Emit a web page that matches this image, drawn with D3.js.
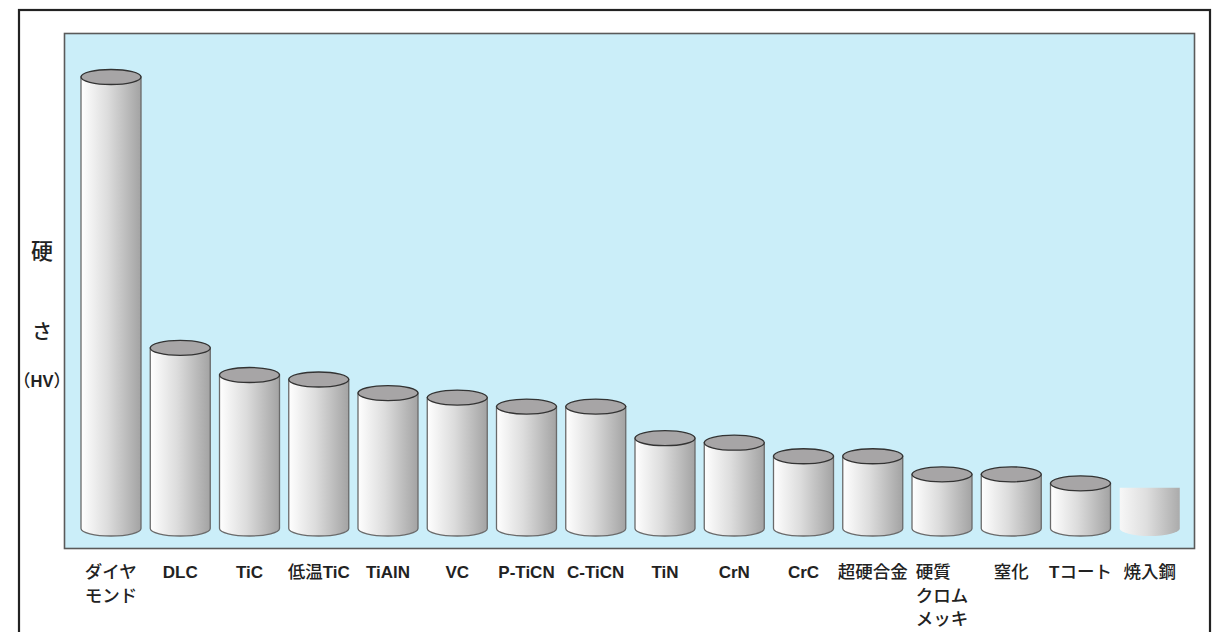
<!DOCTYPE html>
<html>
<head>
<meta charset="utf-8">
<script src="https://cdn.jsdelivr.net/npm/d3@7/dist/d3.min.js"></script>
<style>
  html, body { margin: 0; padding: 0; background: #ffffff; }
  svg { display: block; }
</style>
</head>
<body>
<svg id="chart" width="1220" height="632"></svg>
<script>
// ---- data ----
const categories = ["ダイヤモンド", "DLC", "TiC", "低温TiC", "TiAlN", "VC", "P-TiCN", "C-TiCN",
  "TiN", "CrN", "CrC", "超硬合金", "硬質クロムメッキ", "窒化", "Tコート", "焼入鋼"];
const hardnessHV = [10000, 4000, 3400, 3300, 3000, 2900, 2700, 2700,
  2000, 1900, 1600, 1600, 1200, 1200, 1000, 900];
const labelLines = [["ダイヤ", "モンド"], ["DLC"], ["TiC"], ["低温TiC"], ["TiAlN"], ["VC"], ["P-TiCN"], ["C-TiCN"],
  ["TiN"], ["CrN"], ["CrC"], ["超硬合金"], ["硬質", "クロム", "メッキ"], ["窒化"], ["Tコート"], ["焼入鋼"]];
const flatTopCategories = ["焼入鋼"];
const yTitleLines = ["硬", "さ", "（HV）"];

// ---- layout ----
const svg = d3.select("#chart");
const plot = { left: 64.5, top: 33.5, right: 1194.5, bottom: 548.5 };
const rx = 30, ry = 7.5;

const x = d3.scalePoint().domain(categories).range([111, 1149.75]);
const y = d3.scaleLinear().domain([0, 10000]).range([528.5, 77]);

const defs = svg.append("defs");
const g1 = defs.append("linearGradient").attr("id", "side").attr("x1", "0").attr("x2", "1").attr("y1", "0").attr("y2", "0");
g1.append("stop").attr("offset", "0").attr("stop-color", "#ffffff");
g1.append("stop").attr("offset", "0.45").attr("stop-color", "#dcdcdc");
g1.append("stop").attr("offset", "1").attr("stop-color", "#a3a3a3");
const g2 = defs.append("linearGradient").attr("id", "sideLight").attr("x1", "0").attr("x2", "1").attr("y1", "0").attr("y2", "0");
g2.append("stop").attr("offset", "0").attr("stop-color", "#f7f7f7");
g2.append("stop").attr("offset", "0.45").attr("stop-color", "#dedede");
g2.append("stop").attr("offset", "1").attr("stop-color", "#ababab");

// outer frame
svg.append("rect")
  .attr("x", 19).attr("y", 10).attr("width", 1191).attr("height", 640)
  .attr("fill", "none").attr("stroke", "#222").attr("stroke-width", 2.2);

// plot area
svg.append("rect")
  .attr("x", plot.left).attr("y", plot.top)
  .attr("width", plot.right - plot.left).attr("height", plot.bottom - plot.top)
  .attr("fill", "#cbeef9").attr("stroke", "#5a5a5a").attr("stroke-width", 1.6);

// cylinders
const data = categories.map((c, i) => ({ c, v: hardnessHV[i], lines: labelLines[i], flat: flatTopCategories.includes(c) }));
const base = y(0);

const cyl = svg.append("g").selectAll("g").data(data).join("g");

cyl.append("path")
  .attr("d", d => {
    const cx = x(d.c), top = y(d.v);
    return `M${cx - rx},${top} L${cx - rx},${base} A${rx},${ry} 0 0 0 ${cx + rx},${base} L${cx + rx},${top} Z`;
  })
  .attr("fill", d => d.flat ? "url(#sideLight)" : "url(#side)")
  .attr("stroke", d => d.flat ? "none" : "#6a6a6a")
  .attr("stroke-width", 1.3);

cyl.filter(d => !d.flat).append("ellipse")
  .attr("cx", d => x(d.c)).attr("cy", d => y(d.v))
  .attr("rx", rx).attr("ry", ry)
  .attr("fill", "#a7a5a6").attr("stroke", "#333").attr("stroke-width", 1.3);

// category labels
const isLatin = ch => /[\x00-\x7F]/.test(ch);
function runs(str) {
  const out = [];
  for (const ch of str) {
    const lat = isLatin(ch);
    if (out.length && out[out.length - 1].lat === lat) out[out.length - 1].t += ch;
    else out.push({ t: ch, lat });
  }
  return out;
}
function styledText(sel, str, latSize, cjkSize) {
  runs(str).forEach(r => {
    sel.append("tspan").text(r.t)
      .attr("font-family", r.lat ? "'Liberation Sans', Arial, sans-serif" : "'Noto Sans CJK JP', sans-serif")
      .attr("font-weight", r.lat ? "bold" : "500")
      .attr("font-size", r.lat ? latSize : cjkSize);
  });
}

const labels = svg.append("g");
data.forEach(d => {
  const grp = labels.append("g");
  const texts = d.lines.map((line, li) => {
    const t = grp.append("text").attr("y", 578 + li * 23.5).attr("fill", "#222");
    styledText(t, line, 17, 17.5);
    return t;
  });
  const w = d3.max(texts, t => t.node().getComputedTextLength());
  texts.forEach(t => t.attr("x", x(d.c) - w / 2));
});

// y-axis title
const yt = svg.append("g").attr("fill", "#222").attr("text-anchor", "middle");
yt.append("text").attr("x", 42).attr("y", 259).text(yTitleLines[0])
  .attr("font-family", "'Noto Sans CJK JP', sans-serif").attr("font-size", 22).attr("font-weight", 500);
yt.append("text").attr("x", 42).attr("y", 339).text(yTitleLines[1])
  .attr("font-family", "'Noto Sans CJK JP', sans-serif").attr("font-size", 20).attr("font-weight", 500);
const hv = yt.append("text").attr("x", 42).attr("y", 387);
styledText(hv, yTitleLines[2], 16.5, 17);
</script>
</body>
</html>
